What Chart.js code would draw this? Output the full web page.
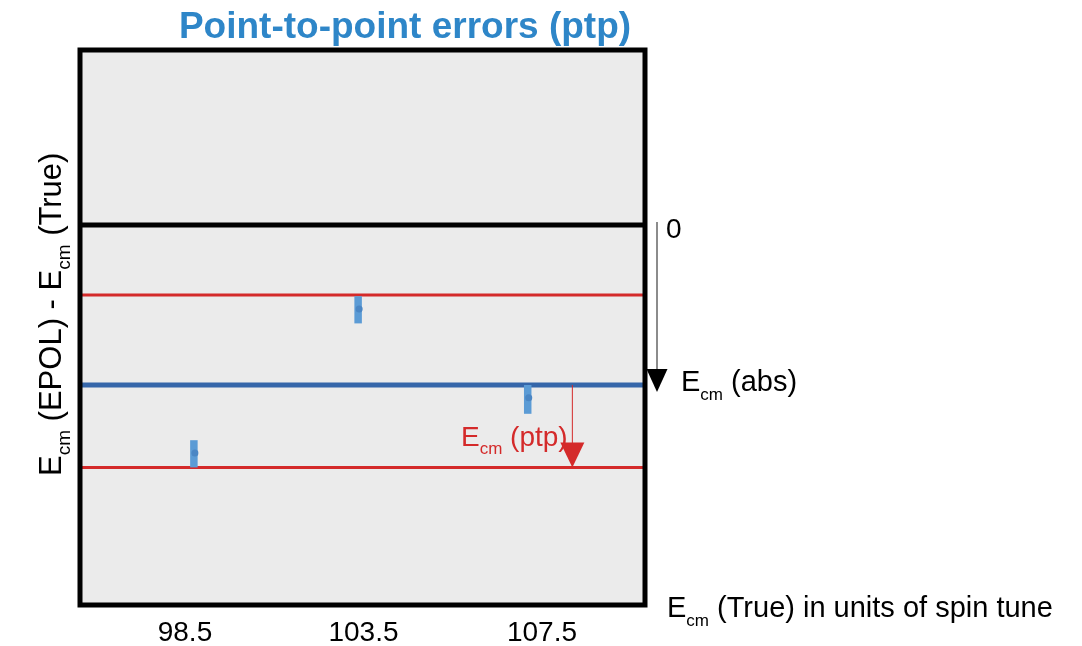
<!DOCTYPE html>
<html>
<head>
<meta charset="utf-8">
<title>Point-to-point errors (ptp)</title>
<script src="https://cdn.jsdelivr.net/npm/chart.js@4/dist/chart.umd.min.js"></script>
<style>
  html, body { margin: 0; padding: 0; background: #ffffff; }
  #wrap { width: 1082px; height: 646px; }
</style>
</head>
<body>
<div id="wrap"><canvas id="ptp" width="1082" height="646"></canvas></div>
<script>
"use strict";

// ── Data ───────────────────────────────────────────────────────────────────
// x is the position index along the spin-tune axis, y in arbitrary energy units
const tickLabels = ['98.5', '103.5', '107.5'];
const tickPos    = [1, 2, 3];

const pointX   = [1.05, 1.97, 2.92];
const pointY   = [-2.85, -1.05, -2.16];
const errLow   = [-3.03, -1.23, -2.36];
const errHigh  = [-2.69, -0.89, -2.00];

const zeroLevel = 0;
const absLevel  = -2.0;
const ptpUpper  = -0.875;
const ptpLower  = -3.03;
const ptpArrowX = 3.17;

const X_MIN = 0.412, X_MAX = 3.577;
const Y_MIN = -4.75, Y_MAX = 2.1875;

// ── Colours / fonts ────────────────────────────────────────────────────────
const FONT   = "'Liberation Sans', Arial, sans-serif";
const BLUE_T = '#2e86c8';
const RED    = '#d42a2a';
const BLUE_L = '#3566a9';
const BAR    = '#5b9bd5';
const DOT    = '#4a86c4';

const hline = (y) => [{ x: X_MIN, y }, { x: X_MAX, y }];

// draw text pieces, some as subscripts; returns total width
function drawRich(ctx, parts, x, y, size, color) {
  ctx.fillStyle = color;
  ctx.textBaseline = 'alphabetic';
  ctx.textAlign = 'left';
  let cx = x;
  parts.forEach(([txt, sub]) => {
    const s = sub ? Math.round(size * 0.6) : size;
    ctx.font = `${s}px ${FONT}`;
    ctx.fillText(txt, cx, sub ? y + size * 0.3 : y);
    cx += ctx.measureText(txt).width;
  });
  return cx - x;
}

function arrowHead(ctx, x, tipY, w, h, color) {
  ctx.fillStyle = color;
  ctx.beginPath();
  ctx.moveTo(x - w / 2, tipY - h);
  ctx.lineTo(x + w / 2, tipY - h);
  ctx.lineTo(x, tipY);
  ctx.closePath();
  ctx.fill();
}

const decor = {
  id: 'decor',
  beforeDraw(chart) {
    const { ctx, chartArea: a } = chart;
    ctx.save();
    ctx.fillStyle = '#ebebeb';
    ctx.fillRect(a.left, a.top, a.right - a.left, a.bottom - a.top);
    ctx.restore();
  },
  afterDatasetsDraw(chart) {
    const { ctx, scales: { x, y } } = chart;
    ctx.save();
    // error bars
    ctx.strokeStyle = BAR;
    ctx.lineWidth = 7.5;
    ctx.lineCap = 'butt';
    pointX.forEach((px, i) => {
      ctx.beginPath();
      ctx.moveTo(x.getPixelForValue(px), y.getPixelForValue(errLow[i]));
      ctx.lineTo(x.getPixelForValue(px), y.getPixelForValue(errHigh[i]));
      ctx.stroke();
    });
    // dots on the bars
    ctx.fillStyle = DOT;
    pointX.forEach((px, i) => {
      ctx.beginPath();
      ctx.arc(x.getPixelForValue(px) + 1, y.getPixelForValue(pointY[i]), 3.5, 0, Math.PI * 2);
      ctx.fill();
    });
    ctx.restore();
  },
  afterDraw(chart) {
    const { ctx, chartArea: a, scales: { x, y } } = chart;
    ctx.save();

    // frame
    ctx.strokeStyle = '#000';
    ctx.lineWidth = 5;
    ctx.strokeRect(a.left, a.top, a.right - a.left, a.bottom - a.top);

    // ptp arrow (abs -> lower ptp line)
    const rx = x.getPixelForValue(ptpArrowX);
    const yAbs = y.getPixelForValue(absLevel);
    const yLow = y.getPixelForValue(ptpLower);
    ctx.strokeStyle = RED;
    ctx.lineWidth = 1;
    ctx.beginPath();
    ctx.moveTo(rx, yAbs);
    ctx.lineTo(rx, yLow - 20);
    ctx.stroke();
    arrowHead(ctx, rx, yLow, 24, 25, RED);

    // abs arrow outside the frame (zero -> abs)
    const ax = a.right + 12;
    const yZero = y.getPixelForValue(zeroLevel);
    ctx.strokeStyle = '#666';
    ctx.lineWidth = 1.5;
    ctx.beginPath();
    ctx.moveTo(ax, yZero - 3);
    ctx.lineTo(ax, yAbs - 14);
    ctx.stroke();
    arrowHead(ctx, ax, yAbs + 7, 21, 23, '#000');

    // title
    ctx.fillStyle = BLUE_T;
    ctx.font = `bold 37px ${FONT}`;
    ctx.textAlign = 'center';
    ctx.textBaseline = 'alphabetic';
    ctx.fillText('Point-to-point errors (ptp)', 405, 38);

    // x tick labels
    ctx.fillStyle = '#000';
    ctx.font = `28px ${FONT}`;
    ctx.textBaseline = 'middle';
    tickPos.forEach((t, i) => ctx.fillText(tickLabels[i], x.getPixelForValue(t), 633));

    // annotations
    ctx.textAlign = 'left';
    ctx.textBaseline = 'alphabetic';
    ctx.fillText('0', 666, yZero + 13);
    drawRich(ctx, [['E'], ['cm', true], [' (abs)']], 681, yAbs + 6, 29, '#000');
    drawRich(ctx, [['E'], ['cm', true], [' (ptp)']], 461, 446, 28, RED);
    drawRich(ctx, [['E'], ['cm', true], [' (True) in units of spin tune']], 667, 617, 29, '#000');

    // y axis title
    ctx.translate(61, 476);
    ctx.rotate(-Math.PI / 2);
    drawRich(ctx, [['E'], ['cm', true], [' (EPOL) - E'], ['cm', true], [' (True)']], 0, 0, 31, '#000');

    ctx.restore();
  }
};

new Chart(document.getElementById('ptp'), {
  type: 'scatter',
  data: {
    datasets: [
      { type: 'line', data: hline(zeroLevel), borderColor: '#000', borderWidth: 5, pointRadius: 0 },
      { type: 'line', data: hline(ptpUpper), borderColor: RED, borderWidth: 3, pointRadius: 0 },
      { type: 'line', data: hline(ptpLower), borderColor: RED, borderWidth: 3, pointRadius: 0 },
      { type: 'line', data: hline(absLevel), borderColor: BLUE_L, borderWidth: 5, pointRadius: 0 },
    ],
  },
  options: {
    responsive: false,
    animation: false,
    layout: { padding: { left: 80, right: 437, top: 50, bottom: 41 } },
    plugins: { legend: { display: false }, tooltip: { enabled: false }, title: { display: false } },
    scales: {
      x: { type: 'linear', min: X_MIN, max: X_MAX, display: false },
      y: { type: 'linear', min: Y_MIN, max: Y_MAX, display: false },
    },
  },
  plugins: [decor],
});
</script>
</body>
</html>
